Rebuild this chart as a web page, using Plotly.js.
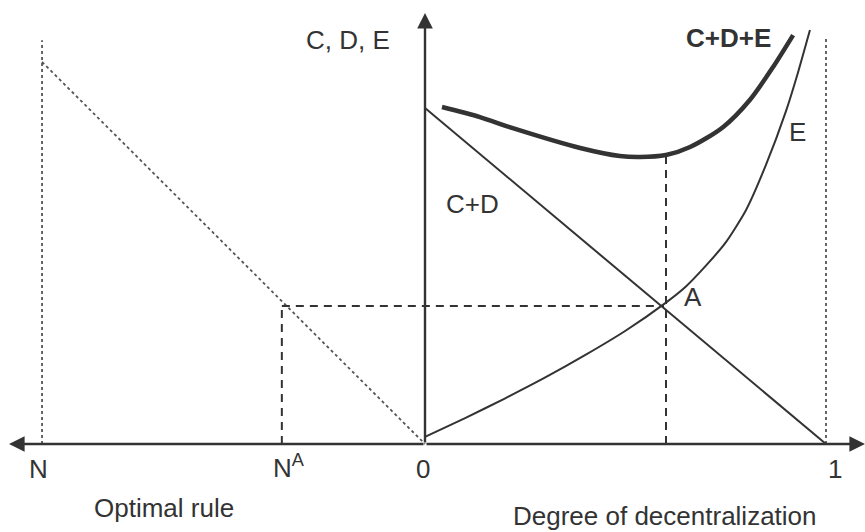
<!DOCTYPE html>
<html>
<head>
<meta charset="utf-8">
<script src="https://cdn.plot.ly/plotly-3.0.1.min.js"></script>
<style>html,body{margin:0;padding:0;background:#fff;}#chart{width:865px;height:532px;}</style>
</head>
<body>
<div id="chart"></div>
<script>
// ---- data (x: degree of decentralization 0..1, y: C, D, E level) ----
const cdX = [0, 1];
const cdY = [1.0, 0.0];
const eX = [0.0, 0.1, 0.2, 0.3, 0.4, 0.5, 0.6, 0.65, 0.7, 0.75, 0.8, 0.85, 0.9, 0.93, 0.96];
const eY = [0.021, 0.077, 0.136, 0.198, 0.265, 0.337, 0.420, 0.468, 0.530, 0.600, 0.695, 0.830, 0.990, 1.105, 1.232];
const totX = [0.0424, 0.137, 0.219, 0.387, 0.486, 0.536, 0.601, 0.661, 0.743, 0.810, 0.868, 0.918];
const totY = [1.003, 0.973, 0.940, 0.881, 0.857, 0.854, 0.860, 0.884, 0.943, 1.024, 1.122, 1.217];
const ruleX = [-0.955, 0];      // optimal rule line (left quadrant)
const ruleY = [1.137, 0];
const N = -0.955, NA = -0.357, xA = 0.596, yA = 0.411, xMin = 0.601, yMin = 0.858;
const leftTop = 1.202, rightTop = 1.214, yTop = 1.283;
const tickLabels = ['N', 'N<sup>A</sup>', '0', '1'];

// pixel <-> data helpers for the fixed 865x532 canvas
const X0 = 425, XS = 401, Y0 = 444, YS = 336;
const px = p => (p - X0) / XS;
const py = p => (Y0 - p) / YS;

const ink = '#333333';
const dotInk = '#555555';

const traces = [
  {x: ruleX, y: ruleY, mode: 'lines', line: {color: dotInk, width: 1.8, dash: 'dot'}},
  {x: [N, N], y: [0, leftTop], mode: 'lines', line: {color: dotInk, width: 1.8, dash: 'dot'}},
  {x: [1, 1], y: [0, rightTop], mode: 'lines', line: {color: dotInk, width: 1.8, dash: 'dot'}},
  {x: [NA, xA], y: [yA, yA], mode: 'lines', line: {color: ink, width: 2, dash: '8px,6px'}},
  {x: [NA, NA], y: [0, yA], mode: 'lines', line: {color: ink, width: 2, dash: '8px,6px'}},
  {x: [xMin, xMin], y: [0, yMin], mode: 'lines', line: {color: ink, width: 2, dash: '8px,6px'}},
  {x: cdX, y: cdY, mode: 'lines', line: {color: ink, width: 2}},
  {x: eX, y: eY, mode: 'lines', line: {color: ink, width: 2, shape: 'spline', smoothing: 0.6}},
  {x: totX, y: totY, mode: 'lines', line: {color: ink, width: 4.5, shape: 'spline', smoothing: 0.8}}
];

const fnt = {family: 'Liberation Sans, Arial, sans-serif', size: 26, color: ink};
function lab(text, x, y, extra) {
  return Object.assign({text: text, x: px(x), y: py(y), xref: 'x', yref: 'y', showarrow: false,
    font: fnt, xanchor: 'center', yanchor: 'middle'}, extra || {});
}
function arrow(x, y, ax, ay) {
  return {x: x, y: y, ax: ax, ay: ay, xref: 'x', yref: 'y', axref: 'x', ayref: 'y', text: '',
    showarrow: true, arrowhead: 2, arrowsize: 1.3, arrowwidth: 2.4, arrowcolor: ink, standoff: 0};
}

const annotations = [
  arrow(px(865), 0, 0, 0),
  arrow(px(9), 0, 0, 0),
  arrow(0, yTop, 0, 0),
  lab(tickLabels[0], 38, 469),
  lab(tickLabels[1], 289, 466),
  lab(tickLabels[2], 423, 469),
  lab(tickLabels[3], 835, 469),
  lab('C, D, E', 348, 40),
  lab('C+D', 472, 204),
  lab('A', 693, 297),
  lab('E', 797, 132),
  lab('<b>C+D+E</b>', 728, 38),
  lab('Optimal rule', 164, 508),
  lab('Degree of decentralization', 665, 516)
];

const layout = {
  width: 865, height: 532, autosize: false,
  margin: {l: 0, r: 0, t: 0, b: 0, pad: 0},
  paper_bgcolor: '#ffffff', plot_bgcolor: '#ffffff',
  showlegend: false,
  xaxis: {range: [px(0), px(865)], visible: false, fixedrange: true},
  yaxis: {range: [py(532), py(0)], visible: false, fixedrange: true},
  annotations: annotations
};

Plotly.newPlot('chart', traces, layout, {staticPlot: true, displayModeBar: false});
</script>
</body>
</html>
